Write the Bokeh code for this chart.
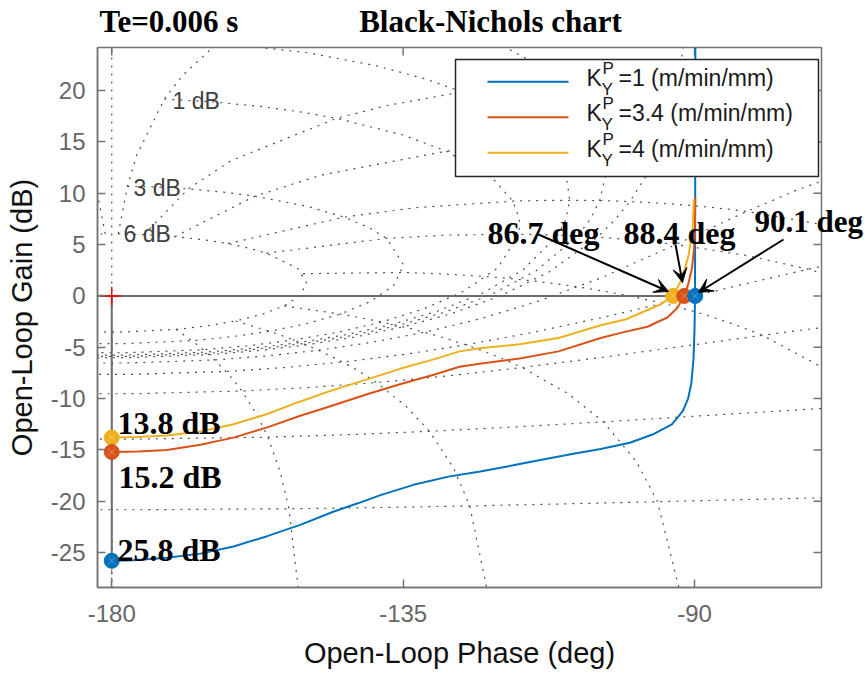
import numpy as np
from bokeh.plotting import figure
from bokeh.models import (Range1d, FixedTicker, LinearAxis, Label, Arrow, VeeHead,
                          CustomJSTickFormatter)
from bokeh.embed import file_html
from bokeh.resources import INLINE

# ---------------- data ----------------
series_labels = ["=1 (m/min/mm)", "=3.4 (m/min/mm)", "=4 (m/min/mm)"]
series_colors = ["#0072BD", "#D95319", "#EDB120"]

blue_phase = [-89.88, -89.9, -89.93, -90.0, -90.15, -90.5, -91.0, -91.8, -93.5, -96.5,
              -100.0, -104.5, -108.5, -112.8, -118.0, -123.1, -128.0, -133.4, -138.5,
              -142.0, -145.7, -150.9, -156.0, -161.2, -166.3, -171.5, -176.6, -180.0]
blue_gain = [25.0, 12.0, 0.0, -3.0, -6.0, -8.5, -10.0, -11.2, -12.5, -13.5,
             -14.3, -14.9, -15.35, -15.85, -16.5, -17.1, -17.6, -18.4, -19.4,
             -20.2, -21.0, -22.3, -23.4, -24.4, -25.1, -25.5, -25.75, -25.8]

red_phase = [-89.9, -89.95, -90.1, -90.4, -91.0, -91.6, -92.7, -94.2, -97.3, -101.4,
             -104.5, -111.0, -117.0, -123.2, -126.3, -130.4, -135.5, -140.7, -146.0,
             -151.0, -156.0, -161.2, -166.3, -171.5, -176.0, -180.0]
red_gain = [9.6, 6.5, 4.5, 2.7, 1.1, 0.0, -1.2, -2.1, -3.0, -3.6,
            -4.1, -5.4, -6.1, -6.6, -6.9, -7.7, -8.6, -9.6, -10.7,
            -11.7, -12.8, -13.8, -14.5, -15.0, -15.15, -15.2]

yellow_phase = [-90.1, -90.3, -90.9, -91.9, -93.3, -95.3, -98.35, -100.7, -104.5, -111.0,
                -117.0, -123.2, -126.3, -130.4, -135.5, -140.7, -146.0, -151.0, -156.0,
                -161.2, -166.3, -171.5, -176.0, -180.0]
yellow_gain = [9.4, 6.5, 4.0, 1.75, 0.0, -0.85, -1.66, -2.3, -2.85, -4.1,
               -4.7, -5.1, -5.4, -6.2, -7.1, -8.15, -9.2, -10.3, -11.5,
               -12.5, -13.2, -13.6, -13.75, -13.8]

gain_margins_db = [25.8, 15.2, 13.8]     # blue, red, yellow
phase_margins_deg = [90.1, 88.4, 86.7]   # blue, red, yellow

x_ticks = [-180, -135, -90]
y_ticks = [-25, -20, -15, -10, -5, 0, 5, 10, 15, 20]

# Nichols grid levels (closed-loop)
iso_gain_db = [6, 3, 1, 0.5, 0.25, 0, -1, -3, -6, -12, -20, -40]
iso_phase_deg = [1, 5, 10, 20, 30, 50, 90, 120, 150, 180]
grid_gain_pts = [6, 3, 2, 1, .75, .5, .4, .3, .25, .2, .15, .1, .05, 0, -.05, -.1, -.15,
                 -.2, -.25, -.3, -.4, -.5, -.75, -1, -2, -3, -4, -5, -6, -9, -12, -16,
                 -20, -30, -40, -50]
grid_phase_pts = [1, 2, 3, 4, 5, 7.5, 10, 15, 20, 25, 30, 45, 60, 75, 90, 105, 120, 135,
                  150, 175, 180]
grid_label_db = [6, 3, 1]

title_text = "Black-Nichols chart"
note_text = "Te=0.006 s"

# ---------------- layout helpers ----------------
FL, FR, FT, FB = 97, 821, 43, 583          # frame edges in canvas pixels
XR = (-182.2, -70.4)
YR = (-28.4, 24.2)
PXX = (FR - FL) / (XR[1] - XR[0])          # px per degree
PXY = (FB - FT) / (YR[1] - YR[0])          # px per dB


def dx(px):
    return XR[0] + (px - FL) / PXX


def dy(py):
    return YR[1] - (py - FT) / PXY


p = figure(frame_width=FR - FL, frame_height=FB - FT,
           x_range=Range1d(*XR), y_range=Range1d(*YR),
           output_backend="svg", toolbar_location=None,
           min_border_left=FL, min_border_right=47,
           min_border_top=FT, min_border_bottom=88,
           background_fill_color="white", border_fill_color="white")
p.xgrid.visible = False
p.ygrid.visible = False
p.outline_line_color = "#737373"
p.outline_line_width = 1.5

AX_COL = "#737373"
for ax in (p.xaxis[0], p.yaxis[0]):
    ax.major_tick_in = 8
    ax.major_tick_out = 0
    ax.minor_tick_line_color = None
    ax.axis_line_color = AX_COL
    ax.axis_line_width = 1.5
    ax.major_tick_line_color = AX_COL
    ax.major_tick_line_width = 1.5
    ax.major_label_text_font = "Liberation Sans"
    ax.major_label_text_font_size = "24px"
    ax.major_label_text_color = "#666666"
    ax.axis_label_text_font = "Liberation Sans"
    ax.axis_label_text_font_size = "29px"
    ax.axis_label_text_font_style = "normal"
    ax.axis_label_text_color = "#111111"
p.xaxis.ticker = FixedTicker(ticks=x_ticks)
p.yaxis.ticker = FixedTicker(ticks=y_ticks)
p.xaxis.major_label_overrides = {t: str(t) for t in x_ticks}
p.yaxis.major_label_overrides = {t: str(t) for t in y_ticks}
p.xaxis.axis_label = "Open-Loop Phase (deg)"
p.yaxis.axis_label = "Open-Loop Gain (dB)"
p.xaxis.major_label_standoff = 17
p.yaxis.major_label_standoff = 12
p.xaxis.axis_label_standoff = 12
p.yaxis.axis_label_standoff = 10

SERIF = "Liberation Serif"
SERIF_KW = dict(major_label_text_font=SERIF, major_label_text_font_style="bold",
                major_label_text_color="black", axis_line_color=None,
                major_tick_line_color=None, minor_tick_line_color=None)

# top text row (note and title) carried by an above axis without line/ticks
top_ax = LinearAxis(ticker=FixedTicker(ticks=[dx(168.5), dx(490)]),
                    formatter=CustomJSTickFormatter(args=dict(labels=[note_text, title_text]),
                                                    code="return labels[index]"),
                    major_label_standoff=3, major_label_text_font_size="31px", **SERIF_KW)
p.add_layout(top_ax, "above")

# "90.1 deg" annotation reaches past the frame: carried by a right axis label
right_ax = LinearAxis(ticker=FixedTicker(ticks=[dy(217)]),
                      formatter=CustomJSTickFormatter(
                          args=dict(labels=[f"{phase_margins_deg[0]} deg"]),
                          code="return labels[index]"),
                      major_label_standoff=-73, major_label_text_font_size="31px",
                      **SERIF_KW)
p.add_layout(right_ax, "right")

# inward box ticks on top and right edges
p.segment(x0=x_ticks, y0=[YR[1]] * len(x_ticks), x1=x_ticks,
          y1=[YR[1] - 8 / PXY] * len(x_ticks), line_color=AX_COL, line_width=1.5)
p.segment(x0=[XR[1]] * len(y_ticks), y0=y_ticks, x1=[XR[1] - 8 / PXX] * len(y_ticks),
          y1=y_ticks, line_color=AX_COL, line_width=1.5)

# ---------------- Nichols grid ----------------
GRID_COL = "#4d4d4d"
GRID_DASH = "2 6"
GRID_W = 1.2


def ol_from_cl(mag_db, ph_deg):
    T = 10 ** (np.asarray(mag_db, float) / 20.0) * np.exp(1j * np.radians(ph_deg))
    G = T / (1 - T)
    gain = 20 * np.log10(np.abs(G))
    phase = np.degrees(np.angle(G))
    phase = np.where(phase > 0, phase - 360, phase)
    return phase, gain


pts = np.array(grid_phase_pts, float)
full_pts = np.concatenate([pts, 360 - pts[:-1][::-1]])
for m in iso_gain_db:
    ph, g = ol_from_cl(np.full_like(full_pts, m), -full_pts)
    p.line(ph, g, line_color=GRID_COL, line_dash=GRID_DASH, line_width=GRID_W)

gp = np.array(grid_gain_pts, float)
for th in iso_phase_deg:
    ph, g = ol_from_cl(gp, np.full_like(gp, -th))
    p.line(ph, g, line_color=GRID_COL, line_dash=GRID_DASH, line_width=GRID_W)
    p.line(-360 - ph, g, line_color=GRID_COL, line_dash=GRID_DASH, line_width=GRID_W)

p.line([-180, -180], [YR[0], YR[1]], line_color=GRID_COL, line_dash=GRID_DASH,
       line_width=GRID_W)

label_px = [123, 133, 172]
label_py = [229, 183, 96]
for db, lx, ly in zip(grid_label_db, label_px, label_py):
    p.add_layout(Label(x=dx(lx), y=dy(ly), text=f"{db} dB", text_font="Liberation Sans",
                       text_font_size="23px", text_color="#404040",
                       text_baseline="middle", text_align="left"))

# ---------------- stability-margin lines ----------------
MARG_COL = "#6b6b6b"
p.line([XR[0], -180 + max(phase_margins_deg)], [0, 0], line_color=MARG_COL, line_width=2)
p.line([-180, -180], [0, -max(gain_margins_db)], line_color=MARG_COL, line_width=2)

# ---------------- curves ----------------
curves = [(blue_phase, blue_gain), (red_phase, red_gain), (yellow_phase, yellow_gain)]
for (ph, g), c in zip(curves, series_colors):
    p.line(ph, g, line_color=c, line_width=2)

# critical point
p.scatter([-180], [0], marker="cross", size=18, line_color="#ff0000", line_width=1.5)

# margin markers (drawn yellow, red, blue)
for i in (2, 1, 0):
    c = series_colors[i]
    xs = [-180, -180 + phase_margins_deg[i]]
    ys = [-gain_margins_db[i], 0]
    p.scatter(xs, ys, marker="circle", size=15, fill_color=c, line_color=c)
    p.scatter(xs, ys, marker="x", size=10, line_color="white", line_alpha=0.3,
              line_width=1)

# ---------------- legend ----------------
box_l, box_r, box_t, box_b = 455, 818, 55, 172
p.quad(left=[dx(box_l)], right=[dx(box_r)], top=[dy(box_t)], bottom=[dy(box_b)],
       fill_color="white", line_color="#262626", line_width=1.5)
rows = [77.3, 112.7, 148.3]
for ry, c, lab in zip(rows, series_colors, series_labels):
    p.line([dx(487), dx(568)], [dy(ry), dy(ry)], line_color=c, line_width=2)
    p.add_layout(Label(x=dx(586), y=dy(ry + 9), text="K", text_font="Liberation Sans",
                       text_font_size="23px", text_color="#1a1a1a"))
    p.add_layout(Label(x=dx(602), y=dy(ry - 4), text="P", text_font="Liberation Sans",
                       text_font_size="17px", text_color="#1a1a1a"))
    p.add_layout(Label(x=dx(601), y=dy(ry + 17), text="Y", text_font="Liberation Sans",
                       text_font_size="17px", text_color="#1a1a1a"))
    p.add_layout(Label(x=dx(618), y=dy(ry + 9), text=lab, text_font="Liberation Sans",
                       text_font_size="23px", text_color="#1a1a1a"))

# ---------------- annotations ----------------


def ann(text, px, py, size="32px"):
    p.add_layout(Label(x=dx(px), y=dy(py), text=text, text_font=SERIF,
                       text_font_size=size, text_font_style="bold",
                       text_color="black", text_baseline="alphabetic"))


ann(f"{phase_margins_deg[2]} deg", 487, 228)
ann(f"{phase_margins_deg[1]} deg", 623, 228)
ann(f"{gain_margins_db[2]} dB", 117, 418)
ann(f"{gain_margins_db[1]} dB", 118, 472)
ann(f"{gain_margins_db[0]} dB", 117, 545)

arrows = [((538, 230), (668, 287)), ((675, 240), (682, 278)), ((783, 235), (698, 288))]
for (x0, y0), (x1, y1) in arrows:
    p.add_layout(Arrow(x_start=dx(x0), y_start=dy(y0), x_end=dx(x1), y_end=dy(y1),
                       line_color="black", line_width=2,
                       end=VeeHead(size=14, fill_color="black", line_color="black",
                                   line_width=1)))

open("out.html", "w").write(file_html(p, INLINE))
